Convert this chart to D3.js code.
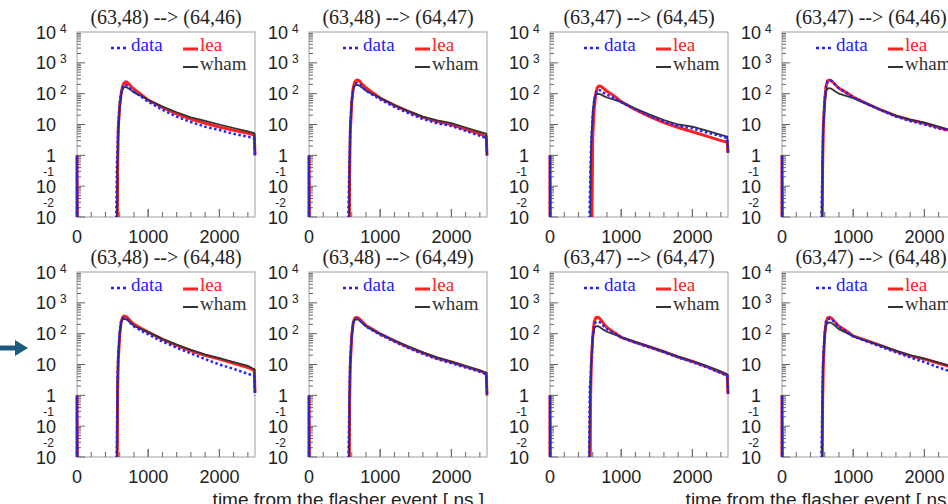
<!DOCTYPE html>
<html>
<head>
<meta charset="utf-8">
<script src="https://cdn.jsdelivr.net/npm/d3@7"></script>
<style>
body { margin: 0; background: #fff; }
svg text { font-family: "Liberation Sans", Arial, sans-serif; }
svg text.serif { font-family: "Liberation Serif", "Times New Roman", serif; }
</style>
</head>
<body>
<div class="container"></div>
<script>
// bin times in ns (shared by every histogram)
var times = [0, 0, 8, 540, 560, 570, 580, 600, 620, 640, 660, 680, 700, 720, 750, 800, 900, 1000, 1200, 1400, 1600, 1800, 2000, 2200, 2400, 2490, 2500];

var titles = ['(63,48) --> (64,46)', '(63,48) --> (64,47)', '(63,47) --> (64,45)', '(63,47) --> (64,46)',
              '(63,48) --> (64,48)', '(63,48) --> (64,49)', '(63,47) --> (64,47)', '(63,47) --> (64,48)'];

var leaValues = [
    [0, 1, 0, 0, 0, 0.3, 8, 40, 100, 170, 220, 240, 235, 215, 180, 140, 95, 62, 36, 22, 15, 11, 8.3, 6.5, 5.2, 4.6, 1],
    [0, 1, 0, 0, 0, 0.2, 6, 50, 150, 230, 265, 275, 265, 240, 200, 155, 105, 72, 42, 26, 17, 12.5, 10, 7, 5, 4, 1],
    [0, 1, 0, 0, 0, 0, 0, 4, 30, 90, 150, 175, 178, 170, 150, 120, 85, 55, 30, 18, 11.5, 8, 5.8, 4.2, 3, 2.7, 1.2],
    [0, 1, 0, 0, 0, 0.4, 8, 60, 180, 260, 275, 270, 255, 230, 195, 150, 110, 78, 47, 29, 19, 14, 11, 8, 6, 5.2, 1],
    [0, 1, 0, 0, 0, 1, 15, 90, 240, 340, 370, 365, 345, 310, 260, 200, 150, 112, 65, 42, 28, 20, 15, 11, 8, 6.5, 1.2],
    [0, 1, 0, 0, 0, 0.5, 10, 80, 220, 310, 335, 330, 315, 285, 240, 185, 135, 98, 58, 36, 24, 16, 12, 8.5, 6.2, 5.2, 1],
    [0, 1, 0, 0, 0, 0.85, 10, 80, 230, 320, 340, 335, 310, 270, 215, 160, 110, 76, 52, 37, 26, 17.5, 12.5, 8.5, 5.5, 4.4, 1.1],
    [0, 1, 0, 0, 0, 0.5, 10, 90, 240, 320, 340, 330, 310, 275, 230, 175, 125, 85, 58, 40, 27, 19, 15, 11, 8, 7, 1]
];

var dataValues = [
    [0, 1, 0, 0, 0.5, 2, 10, 50, 110, 160, 185, 190, 185, 170, 145, 115, 80, 55, 30, 18, 12, 8.5, 6.6, 5, 4, 3.6, 1],
    [0, 1, 0, 0, 0.1, 1, 8, 60, 140, 200, 215, 220, 210, 195, 165, 125, 90, 65, 37, 23, 15, 11, 9, 6.2, 4.3, 3.6, 1],
    [0, 1, 0, 0, 0.05, 0.5, 3, 20, 60, 100, 125, 132, 130, 122, 108, 92, 72, 53, 31, 19, 12.5, 9, 7.5, 5.5, 4.2, 3.6, 1.2],
    [0, 1, 0, 0, 0.05, 1, 10, 70, 170, 250, 268, 270, 255, 230, 195, 150, 108, 76, 46, 28, 18, 13, 10, 7.5, 5.7, 4.8, 1],
    [0, 1, 0, 0, 0.03, 5, 20, 110, 250, 320, 330, 325, 300, 270, 225, 170, 125, 95, 55, 35, 23, 15, 10, 7.2, 5, 4.2, 1],
    [0, 1, 0, 0, 0.05, 2, 15, 90, 220, 290, 305, 300, 285, 260, 220, 170, 125, 92, 55, 34, 22, 15, 11, 8, 5.8, 4.8, 1],
    [0, 1, 0, 0, 2.2, 3, 12, 75, 180, 235, 250, 245, 235, 215, 180, 140, 103, 76, 51, 36, 25, 17, 12, 8.2, 5.3, 4.3, 1.1],
    [0, 1, 0, 0, 0.06, 3, 20, 110, 250, 300, 310, 305, 290, 260, 220, 170, 122, 82, 55, 37, 25, 17, 12, 8, 5.6, 4.6, 1]
];

var whamValues = [
    [0, 1, 0, 0, 0, 0.6, 5, 35, 90, 140, 160, 165, 160, 150, 135, 110, 85, 62, 38, 25, 17, 13, 10, 7.7, 6, 5.2, 1],
    [0, 1, 0, 0, 0, 0.5, 10, 55, 130, 180, 190, 190, 185, 175, 155, 125, 95, 72, 43, 27, 18, 13.5, 11, 8, 5.8, 5, 1],
    [0, 1, 0, 0, 0, 0.3, 3, 25, 65, 90, 97, 98, 97, 93, 85, 75, 64, 53, 33, 21, 14, 10, 8.5, 6.3, 4.6, 4, 1.2],
    [0, 1, 0, 0, 0, 0.5, 8, 50, 120, 145, 150, 148, 142, 132, 118, 100, 85, 72, 46, 29, 19.5, 14.5, 11.5, 8.5, 6.3, 5.4, 1],
    [0, 1, 0, 0, 0, 3, 20, 100, 230, 290, 300, 295, 285, 260, 225, 180, 140, 112, 68, 44, 30, 21, 16, 12, 9, 7, 1.2],
    [0, 1, 0, 0, 0, 1, 12, 85, 210, 280, 295, 290, 278, 255, 220, 175, 130, 98, 60, 38, 25, 17, 12.5, 9, 6.5, 5.4, 1],
    [0, 1, 0, 0, 0.5, 2, 12, 70, 150, 170, 175, 173, 165, 150, 135, 115, 95, 78, 54, 38, 26, 18, 13, 9, 6, 4.8, 1.1],
    [0, 1, 0, 0, 0, 1, 15, 90, 190, 225, 230, 228, 218, 200, 175, 140, 108, 82, 57, 40, 28, 20, 15.5, 11.5, 8.5, 7.2, 1]
];

var xTicks = [0, 1000, 2000];
var yExponents = [-2, -1, 0, 1, 2, 3, 4];
var xTitle = 'time from the flasher event [ ns ]';

const WIDTH = 948;
const HEIGHT = 504;
const PW = 178;
const PH = 185;
var colLefts = [77, 309, 550, 782];
var rowTops = [32, 272];

var svg = d3.select('.container').append('svg')
    .attr('width', WIDTH).attr('height', HEIGHT);

var addTicks = function (g, xScale, yScale, left, top) {
    // x ticks every 200 ns, long ones at 1000
    d3.range(0, 2500, 200).concat([1000, 2000]).forEach(function (t) {
        var len = (t % 1000 === 0) ? 8 : 5;
        g.append('line').attr('x1', xScale(t)).attr('x2', xScale(t))
            .attr('y1', top + PH).attr('y2', top + PH - len)
            .attr('stroke', '#666').attr('stroke-width', 1);
    });
    // log ticks on y
    yExponents.forEach(function (e) {
        if (e === 4) return;
        for (var m = 1; m <= 9; m++) {
            var v = m * Math.pow(10, e);
            g.append('line').attr('x1', left).attr('x2', left + (m === 1 ? 8 : 4))
                .attr('y1', yScale(v)).attr('y2', yScale(v))
                .attr('stroke', '#666').attr('stroke-width', 1);
        }
    });
};

var addLabels = function (g, xScale, yScale, left, top) {
    xTicks.forEach(function (t) {
        g.append('text').attr('x', xScale(t)).attr('y', top + PH + 26)
            .attr('text-anchor', 'middle').attr('font-size', 18).attr('fill', '#222')
            .text(t);
    });
    yExponents.forEach(function (e) {
        var y = yScale(Math.pow(10, e));
        g.append('text').attr('x', left - 21).attr('y', y + 6.5)
            .attr('text-anchor', 'end').attr('font-size', 18).attr('fill', '#222')
            .text(e === 0 ? '1' : '10');
        if (e >= 2) {
            g.append('text').attr('x', left - 17).attr('y', y + 0.5)
                .attr('font-size', 12).attr('fill', '#222').text(e);
        } else if (e < 0) {
            g.append('text').attr('x', left - 23).attr('y', y - 10)
                .attr('text-anchor', 'end').attr('font-size', 12).attr('fill', '#222').text(e);
        }
    });
};

var addLegend = function (g, left, top) {
    g.append('line').attr('x1', left + 34).attr('x2', left + 52).attr('y1', top + 16).attr('y2', top + 16)
        .attr('stroke', '#2222ff').attr('stroke-width', 2.5).attr('stroke-dasharray', '3,3');
    g.append('text').attr('class', 'serif').attr('x', left + 54).attr('y', top + 19)
        .attr('font-size', 19).attr('fill', '#2222ff').text('data');
    g.append('line').attr('x1', left + 106).attr('x2', left + 121).attr('y1', top + 17).attr('y2', top + 17)
        .attr('stroke', '#ff2020').attr('stroke-width', 3);
    g.append('text').attr('class', 'serif').attr('x', left + 123).attr('y', top + 19)
        .attr('font-size', 19).attr('fill', '#ff2020').text('lea');
    g.append('line').attr('x1', left + 106).attr('x2', left + 121).attr('y1', top + 35).attr('y2', top + 35)
        .attr('stroke', '#333').attr('stroke-width', 2);
    g.append('text').attr('class', 'serif').attr('x', left + 123).attr('y', top + 38)
        .attr('font-size', 19).attr('fill', '#333').text('wham');
};

var drawPanel = function (i) {
    var left = colLefts[i % 4];
    var top = rowTops[Math.floor(i / 4)];
    var xScale = d3.scaleLinear().domain([0, 2500]).range([left, left + PW]);
    var yScale = d3.scaleLog().domain([1e-2, 1e4]).range([top + PH, top]);
    var g = svg.append('g');

    g.append('text').attr('class', 'serif').attr('x', left + PW / 2).attr('y', top - 8)
        .attr('text-anchor', 'middle').attr('font-size', 20).attr('fill', '#222').text(titles[i]);

    g.append('rect').attr('x', left).attr('y', top).attr('width', PW).attr('height', PH)
        .attr('fill', 'none').attr('stroke', '#a0a0a0').attr('stroke-width', 1);

    addTicks(g, xScale, yScale, left, top);
    addLabels(g, xScale, yScale, left, top);
    addLegend(g, left, top);

    var clipId = 'clip' + i;
    svg.append('clipPath').attr('id', clipId).append('rect')
        .attr('x', left - 2).attr('y', top).attr('width', PW + 4).attr('height', PH);

    var line = d3.line()
        .x(function (d, j) { return xScale(times[j]); })
        .y(function (d) { return yScale(d > 0 ? d : 1e-4); });

    var curves = g.append('g').attr('clip-path', 'url(#' + clipId + ')');
    curves.append('path').attr('d', line(leaValues[i])).attr('fill', 'none')
        .attr('stroke', '#ff2020').attr('stroke-width', 3);
    curves.append('path').attr('d', line(whamValues[i])).attr('fill', 'none')
        .attr('stroke', '#333').attr('stroke-width', 1.8);
    curves.append('path').attr('d', line(dataValues[i])).attr('fill', 'none')
        .attr('stroke', '#2222ff').attr('stroke-width', 2.5).attr('stroke-dasharray', '2.5,2.5');
};

d3.range(8).forEach(drawPanel);

// axis titles under each pair of panels
[colLefts[1] + PW, colLefts[3] + PW].forEach(function (x) {
    svg.append('text').attr('x', x - 3).attr('y', 506).attr('text-anchor', 'end')
        .attr('font-size', 19).attr('fill', '#222').text(xTitle);
});

// pointer arrow on the left
svg.append('path').attr('d', 'M0,345.5 L15,345.5 L15,340 L28,348 L15,356 L15,350.5 L0,350.5 Z')
    .attr('fill', '#1c5b7e');
</script>
</body>
</html>
